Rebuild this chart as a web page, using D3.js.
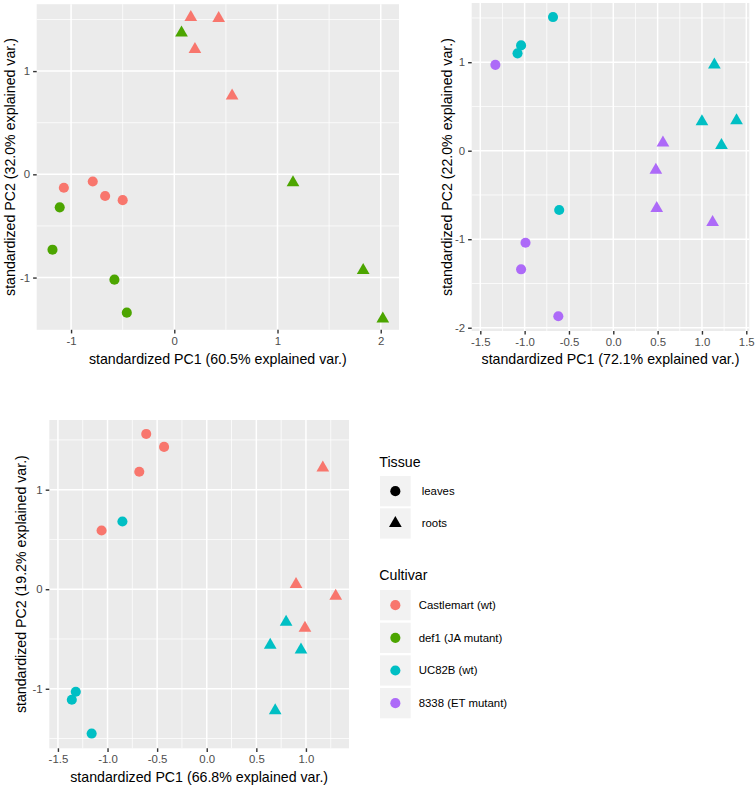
<!DOCTYPE html>
<html>
<head>
<meta charset="utf-8">
<script src="https://cdn.jsdelivr.net/npm/d3@7"></script>
<style>
  html, body { margin: 0; padding: 0; background: #ffffff; }
  svg { display: block; }
  text { font-family: "Liberation Sans", Arial, Helvetica, sans-serif; }
</style>
</head>
<body>
<svg id="chart" width="756" height="787"></svg>
<script>
// ---------------- DATA ----------------
const cultivars = ["Castlemart (wt)", "def1 (JA mutant)", "UC82B (wt)", "8338 (ET mutant)"];
const cultivarColors = ["#F8766D", "#4CA500", "#00BFC4", "#AD6AF8"];
const tissues = ["leaves", "roots"];

// Panel A: Castlemart vs def1
const pA_pc1 = [0.16, 0.43, 0.20, 0.56, 0.07, 1.15, 1.83, 2.02, -1.07, -0.79, -0.67, -0.50, -1.11, -1.18, -0.58, -0.46];
const pA_pc2 = [1.52, 1.51, 1.21, 0.76, 1.37, -0.08, -0.93, -1.40, -0.13, -0.07, -0.21, -0.25, -0.32, -0.73, -1.02, -1.34];
const pA_cultivar = ["Castlemart (wt)", "Castlemart (wt)", "Castlemart (wt)", "Castlemart (wt)",
  "def1 (JA mutant)", "def1 (JA mutant)", "def1 (JA mutant)", "def1 (JA mutant)",
  "Castlemart (wt)", "Castlemart (wt)", "Castlemart (wt)", "Castlemart (wt)",
  "def1 (JA mutant)", "def1 (JA mutant)", "def1 (JA mutant)", "def1 (JA mutant)"];
const pA_tissue = ["roots", "roots", "roots", "roots", "roots", "roots", "roots", "roots",
  "leaves", "leaves", "leaves", "leaves", "leaves", "leaves", "leaves", "leaves"];
const pA_xTicks = [-1, 0, 1, 2];
const pA_xTickLabels = ["-1", "0", "1", "2"];
const pA_yTicks = [-1, 0, 1];
const pA_yTickLabels = ["-1", "0", "1"];
const pA_xMinor = [-0.5, 0.5, 1.5];
const pA_yMinor = [-0.5, 0.5, 1.5];
const pA_xTitle = "standardized PC1 (60.5% explained var.)";
const pA_yTitle = "standardized PC2 (32.0% explained var.)";

// Panel B: UC82B vs 8338
const pB_pc1 = [-0.68, -1.04, -1.08, -0.61, -1.33, -0.99, -1.04, -0.62, 1.14, 1.00, 1.39, 1.22, 0.56, 0.48, 0.49, 1.12];
const pB_pc2 = [1.51, 1.19, 1.10, -0.67, 0.97, -1.04, -1.34, -1.87, 0.97, 0.33, 0.34, 0.06, 0.09, -0.22, -0.65, -0.81];
const pB_cultivar = ["UC82B (wt)", "UC82B (wt)", "UC82B (wt)", "UC82B (wt)",
  "8338 (ET mutant)", "8338 (ET mutant)", "8338 (ET mutant)", "8338 (ET mutant)",
  "UC82B (wt)", "UC82B (wt)", "UC82B (wt)", "UC82B (wt)",
  "8338 (ET mutant)", "8338 (ET mutant)", "8338 (ET mutant)", "8338 (ET mutant)"];
const pB_tissue = ["leaves", "leaves", "leaves", "leaves", "leaves", "leaves", "leaves", "leaves",
  "roots", "roots", "roots", "roots", "roots", "roots", "roots", "roots"];
const pB_xTicks = [-1.5, -1.0, -0.5, 0.0, 0.5, 1.0, 1.5];
const pB_xTickLabels = ["-1.5", "-1.0", "-0.5", "0.0", "0.5", "1.0", "1.5"];
const pB_yTicks = [-2, -1, 0, 1];
const pB_yTickLabels = ["-2", "-1", "0", "1"];
const pB_xMinor = [-1.25, -0.75, -0.25, 0.25, 0.75, 1.25];
const pB_yMinor = [-1.5, -0.5, 0.5, 1.5];
const pB_xTitle = "standardized PC1 (72.1% explained var.)";
const pB_yTitle = "standardized PC2 (22.0% explained var.)";

// Panel C: Castlemart vs UC82B
const pC_pc1 = [-0.61, -0.43, -0.68, -1.06, -0.85, -1.32, -1.36, -1.16, 1.17, 0.90, 1.30, 0.99, 0.80, 0.64, 0.95, 0.69];
const pC_pc2 = [1.56, 1.43, 1.18, 0.59, 0.68, -1.03, -1.11, -1.45, 1.22, 0.05, -0.07, -0.39, -0.33, -0.56, -0.61, -1.22];
const pC_cultivar = ["Castlemart (wt)", "Castlemart (wt)", "Castlemart (wt)", "Castlemart (wt)",
  "UC82B (wt)", "UC82B (wt)", "UC82B (wt)", "UC82B (wt)",
  "Castlemart (wt)", "Castlemart (wt)", "Castlemart (wt)", "Castlemart (wt)",
  "UC82B (wt)", "UC82B (wt)", "UC82B (wt)", "UC82B (wt)"];
const pC_tissue = ["leaves", "leaves", "leaves", "leaves", "leaves", "leaves", "leaves", "leaves",
  "roots", "roots", "roots", "roots", "roots", "roots", "roots", "roots"];
const pC_xTicks = [-1.5, -1.0, -0.5, 0.0, 0.5, 1.0];
const pC_xTickLabels = ["-1.5", "-1.0", "-0.5", "0.0", "0.5", "1.0"];
const pC_yTicks = [-1, 0, 1];
const pC_yTickLabels = ["-1", "0", "1"];
const pC_xMinor = [-1.25, -0.75, -0.25, 0.25, 0.75, 1.25];
const pC_yMinor = [-1.5, -0.5, 0.5, 1.5];
const pC_xTitle = "standardized PC1 (66.8% explained var.)";
const pC_yTitle = "standardized PC2 (19.2% explained var.)";

// ---------------- RENDER ----------------
const svg = d3.select("#chart");
const color = d3.scaleOrdinal().domain(cultivars).range(cultivarColors);
const shape = d3.scaleOrdinal().domain(tissues).range([d3.symbolCircle, d3.symbolTriangle]);
const shapeSize = d3.scaleOrdinal().domain(tissues).range([80, 70]);

const AXIS_TITLE = 14.2, TICK_TEXT = 11.4;

function drawPanel(cfg) {
  const x = d3.scaleLinear().domain(cfg.xDomain).range([cfg.left, cfg.right]);
  const y = d3.scaleLinear().domain(cfg.yDomain).range([cfg.bottom, cfg.top]);
  const g = svg.append("g");

  g.append("rect")
    .attr("x", cfg.left).attr("y", cfg.top)
    .attr("width", cfg.right - cfg.left).attr("height", cfg.bottom - cfg.top)
    .attr("fill", "#EBEBEB");

  // minor grid
  g.selectAll(null).data(cfg.xMinor).enter().append("line")
    .attr("x1", d => x(d)).attr("x2", d => x(d))
    .attr("y1", cfg.top).attr("y2", cfg.bottom)
    .attr("stroke", "#ffffff").attr("stroke-width", 0.75);
  g.selectAll(null).data(cfg.yMinor).enter().append("line")
    .attr("y1", d => y(d)).attr("y2", d => y(d))
    .attr("x1", cfg.left).attr("x2", cfg.right)
    .attr("stroke", "#ffffff").attr("stroke-width", 0.75);
  // major grid
  g.selectAll(null).data(cfg.xTicks).enter().append("line")
    .attr("x1", d => x(d)).attr("x2", d => x(d))
    .attr("y1", cfg.top).attr("y2", cfg.bottom)
    .attr("stroke", "#ffffff").attr("stroke-width", 1.5);
  g.selectAll(null).data(cfg.yTicks).enter().append("line")
    .attr("y1", d => y(d)).attr("y2", d => y(d))
    .attr("x1", cfg.left).attr("x2", cfg.right)
    .attr("stroke", "#ffffff").attr("stroke-width", 1.5);

  // axes
  const xAxis = d3.axisBottom(x).tickValues(cfg.xTicks)
    .tickFormat((d, i) => cfg.xTickLabels[i]).tickSize(3.6).tickPadding(3.2);
  const yAxis = d3.axisLeft(y).tickValues(cfg.yTicks)
    .tickFormat((d, i) => cfg.yTickLabels[i]).tickSize(3.6).tickPadding(3.0);
  const gx = g.append("g").attr("transform", `translate(0,${cfg.bottom})`).call(xAxis);
  const gy = g.append("g").attr("transform", `translate(${cfg.left},0)`).call(yAxis);
  [gx, gy].forEach(a => {
    a.select(".domain").remove();
    a.selectAll(".tick line").attr("stroke", "#333333").attr("stroke-width", 1.4);
    a.selectAll(".tick text").attr("fill", "#4D4D4D")
      .style("font-size", TICK_TEXT + "px")
      .style("font-family", '"Liberation Sans", Arial, sans-serif');
  });

  // axis titles
  g.append("text")
    .attr("x", (cfg.left + cfg.right) / 2).attr("y", cfg.xTitleY)
    .attr("dy", "0.35em").attr("text-anchor", "middle")
    .style("font-size", AXIS_TITLE + "px").attr("fill", "#000000")
    .text(cfg.xTitle);
  g.append("text")
    .attr("transform", `translate(${cfg.yTitleX},${(cfg.top + cfg.bottom) / 2}) rotate(-90)`)
    .attr("dy", "0.35em").attr("text-anchor", "middle")
    .style("font-size", AXIS_TITLE + "px").attr("fill", "#000000")
    .text(cfg.yTitle);

  // points
  const data = cfg.pc1.map((v, i) => ({ pc1: v, pc2: cfg.pc2[i], cultivar: cfg.cultivar[i], tissue: cfg.tissue[i] }));
  g.selectAll(null).data(data).enter().append("path")
    .attr("transform", d => `translate(${x(d.pc1)},${y(d.pc2)})`)
    .attr("d", d => d3.symbol().type(shape(d.tissue)).size(shapeSize(d.tissue))())
    .attr("fill", d => color(d.cultivar));
}

drawPanel({
  pc1: pA_pc1, pc2: pA_pc2, cultivar: pA_cultivar, tissue: pA_tissue,
  xTicks: pA_xTicks, xTickLabels: pA_xTickLabels, yTicks: pA_yTicks, yTickLabels: pA_yTickLabels,
  xMinor: pA_xMinor, yMinor: pA_yMinor, xTitle: pA_xTitle, yTitle: pA_yTitle,
  xDomain: [-1.333, 2.177], yDomain: [-1.506, 1.648],
  left: 36.7, right: 399, top: 4.2, bottom: 329.8, xTitleY: 359, yTitleX: 10
});

drawPanel({
  pc1: pB_pc1, pc2: pB_pc2, cultivar: pB_cultivar, tissue: pB_tissue,
  xTicks: pB_xTicks, xTickLabels: pB_xTickLabels, yTicks: pB_yTicks, yTickLabels: pB_yTickLabels,
  xMinor: pB_xMinor, yMinor: pB_yMinor, xTitle: pB_xTitle, yTitle: pB_yTitle,
  xDomain: [-1.597, 1.534], yDomain: [-2.037, 1.669],
  left: 471.7, right: 749.3, top: 3, bottom: 331, xTitleY: 359, yTitleX: 446.7
});

drawPanel({
  pc1: pC_pc1, pc2: pC_pc2, cultivar: pC_cultivar, tissue: pC_tissue,
  xTicks: pC_xTicks, xTickLabels: pC_xTickLabels, yTicks: pC_yTicks, yTickLabels: pC_yTickLabels,
  xMinor: pC_xMinor, yMinor: pC_yMinor, xTitle: pC_xTitle, yTitle: pC_yTitle,
  xDomain: [-1.587, 1.434], yDomain: [-1.598, 1.70],
  left: 49.3, right: 349, top: 420, bottom: 748.3, xTitleY: 777.3, yTitleX: 21
});

// ---------------- LEGENDS ----------------
const leg = svg.append("g");
const keyX = 380, keyW = 30.7, keyH = 30.3;

leg.append("text").attr("x", 379.3).attr("y", 461.7).attr("dy", "0.35em")
  .style("font-size", AXIS_TITLE + "px").text("Tissue");
const tissueKeyY = [476, 508.3];
tissues.forEach((t, i) => {
  leg.append("rect").attr("x", keyX).attr("y", tissueKeyY[i]).attr("width", keyW).attr("height", keyH)
    .attr("fill", "#F2F2F2");
  leg.append("path")
    .attr("transform", `translate(${keyX + keyW / 2},${tissueKeyY[i] + keyH / 2})`)
    .attr("d", d3.symbol().type(shape(t)).size(shapeSize(t))())
    .attr("fill", "#000000");
  leg.append("text").attr("x", 421.7).attr("y", tissueKeyY[i] + keyH / 2).attr("dy", "0.35em")
    .style("font-size", TICK_TEXT + "px").attr("fill", "#000000").text(t);
});

leg.append("text").attr("x", 379.3).attr("y", 575).attr("dy", "0.35em")
  .style("font-size", AXIS_TITLE + "px").text("Cultivar");
const cultKeyY = [590, 622.7, 655.3, 688];
cultivars.forEach((c, i) => {
  leg.append("rect").attr("x", keyX).attr("y", cultKeyY[i]).attr("width", keyW).attr("height", keyH)
    .attr("fill", "#F2F2F2");
  leg.append("path")
    .attr("transform", `translate(${keyX + keyW / 2},${cultKeyY[i] + keyH / 2})`)
    .attr("d", d3.symbol().type(d3.symbolCircle).size(80)())
    .attr("fill", color(c));
  leg.append("text").attr("x", 418.7).attr("y", cultKeyY[i] + keyH / 2).attr("dy", "0.35em")
    .style("font-size", TICK_TEXT + "px").attr("fill", "#000000").text(c);
});
</script>
</body>
</html>
